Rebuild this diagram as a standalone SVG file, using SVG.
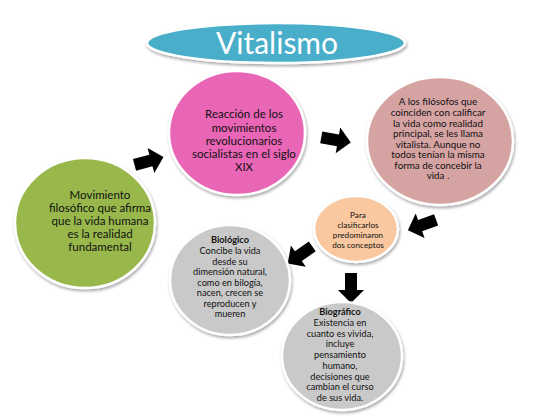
<svg xmlns="http://www.w3.org/2000/svg" width="560" height="420" viewBox="0 0 560 420">
<defs>
<filter id="sh" x="-20%" y="-20%" width="140%" height="140%">
<feGaussianBlur in="SourceAlpha" stdDeviation="1.5"/>
<feOffset dx="1" dy="2" result="b"/>
<feComponentTransfer><feFuncA type="linear" slope="0.35"/></feComponentTransfer>
<feMerge><feMergeNode/><feMergeNode in="SourceGraphic"/></feMerge>
</filter>
<path id="arr" d="M-15,-6 L2,-6 L2,-13 L15,0 L2,13 L2,6 L-15,6 Z" fill="#000"/>
</defs>
<style>
.n{stroke:#fff;stroke-width:2.5;filter:url(#sh)}
.t{font-family:Lato,"Liberation Sans",sans-serif;text-anchor:middle;fill:#111}
</style>
<rect width="560" height="420" fill="#fff"/>
<g id="title">
<ellipse class="n" cx="276" cy="43" rx="129" ry="20" fill="#4aaec9"/>
<text x="277" y="54" font-family="Lato,'Liberation Sans',sans-serif" font-size="30" fill="#fff" text-anchor="middle">Vitalismo</text>
</g>
<g id="connectors">
<use href="#arr" transform="translate(149,161) rotate(-15)"/>
<use href="#arr" transform="translate(336,140) rotate(10)"/>
<use href="#arr" transform="translate(422,225) rotate(160)"/>
<use href="#arr" transform="translate(300,255) rotate(145)"/>
<use href="#arr" transform="translate(351,288) rotate(90)"/>
</g>
<g id="reaccion">
<ellipse class="n" cx="237" cy="133" rx="68" ry="62" fill="#e965b6"/>
<text class="t" font-size="11.5"><tspan x="244" y="118">Reacción de los</tspan><tspan x="244" y="132">movimientos</tspan><tspan x="244" y="145">revolucionarios</tspan><tspan x="244" y="158">socialistas en el siglo</tspan><tspan x="244" y="171">XIX</tspan></text>
</g>
<g id="filosofos">
<ellipse class="n" cx="440" cy="141" rx="73" ry="64" fill="#d6a3a3"/>
<text class="t" font-size="9.8"><tspan x="438" y="105">A los filósofos que</tspan><tspan x="438" y="116">coinciden  con calificar</tspan><tspan x="438" y="126.5">la vida como realidad</tspan><tspan x="438" y="137">principal, se les llama</tspan><tspan x="438" y="147.5">vitalista. Aunque no</tspan><tspan x="438" y="158">todos tenían la misma</tspan><tspan x="438" y="168.5">forma de concebir  la</tspan><tspan x="438" y="179">vida .</tspan></text>
</g>
<g id="movimiento">
<ellipse class="n" cx="85" cy="223" rx="70" ry="65" fill="#98b84c"/>
<text class="t" font-size="11.5"><tspan x="100" y="199">Movimiento</tspan><tspan x="100" y="212">filosófico que afirma</tspan><tspan x="100" y="225">que la vida humana</tspan><tspan x="100" y="238">es la realidad</tspan><tspan x="100" y="251">fundamental</tspan></text>
</g>
<g id="clasificar">
<ellipse class="n" cx="356" cy="229" rx="42" ry="33" fill="#f9c8a0"/>
<text class="t" font-size="8.2"><tspan x="358" y="218">Para</tspan><tspan x="358" y="228">clasificarlos</tspan><tspan x="358" y="238">predominaron</tspan><tspan x="358" y="248">dos conceptos</tspan></text>
</g>
<g id="biologico">
<ellipse class="n" cx="230" cy="280" rx="60" ry="55" fill="#c9c9c9"/>
<text class="t" font-size="9.2"><tspan x="230" y="243" font-weight="bold">Biológico</tspan><tspan x="230" y="254">Concibe la vida</tspan><tspan x="230" y="264.5">desde su</tspan><tspan x="230" y="275">dimensión natural,</tspan><tspan x="230" y="285.5">como en bilogía,</tspan><tspan x="230" y="296">nacen, crecen se</tspan><tspan x="230" y="306.5">reproducen y</tspan><tspan x="230" y="317">mueren</tspan></text>
</g>
<g id="biografico">
<ellipse class="n" cx="342" cy="356" rx="60" ry="54" fill="#c9c9c9"/>
<text class="t" font-size="9.2"><tspan x="340" y="315" font-weight="bold">Biográfico</tspan><tspan x="340" y="326">Existencia en</tspan><tspan x="340" y="336.5">cuanto es vivida,</tspan><tspan x="340" y="347">incluye</tspan><tspan x="340" y="358">pensamiento</tspan><tspan x="340" y="368.5">humano,</tspan><tspan x="340" y="379.5">decisiones que</tspan><tspan x="340" y="390">cambian el curso</tspan><tspan x="340" y="401">de sus vida.</tspan></text>
</g>
</svg>
